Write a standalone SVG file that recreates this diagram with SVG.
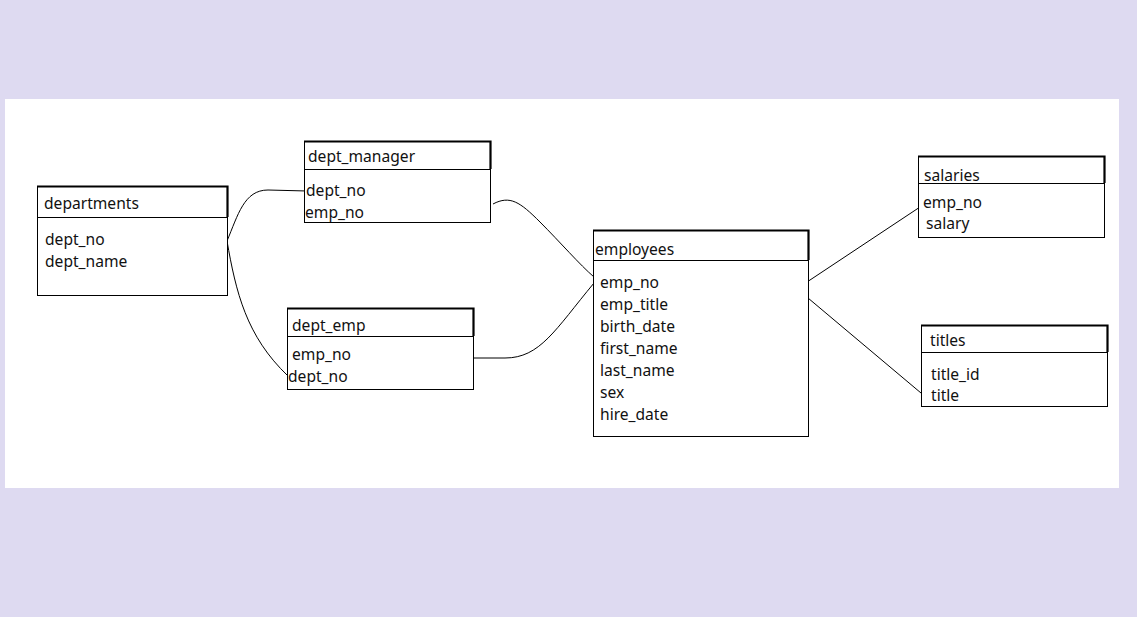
<svg xmlns="http://www.w3.org/2000/svg" width="1137" height="617" viewBox="0 0 1137 617">
<style>
.box{fill:#fff;stroke:#000;stroke-width:1}
.hl{fill:none;stroke:#000;stroke-width:1}
.thick{fill:none;stroke:#000;stroke-width:2.2}
.t{font-family:"Noto Sans","Open Sans",sans-serif;font-size:15.6px;fill:#111}
.c{fill:none;stroke:#000;stroke-width:1}
</style>
<rect x="0" y="0" width="1137" height="617" fill="#dedaf1"/>
<rect x="5" y="99" width="1114" height="389" fill="#fff"/>
<g id="connectors">
<path class="c" d="M227,241 C238,215 244,190 268,190 L307,191"/>
<path class="c" d="M227,241 C236,292 246,336 288,376"/>
<path class="c" d="M493,204 C510,195 520,202 540,222 S580,265 594,277"/>
<path class="c" d="M474,358 L505,358 C540,358 555,330 594,283"/>
<path class="c" d="M807,282 L920,207"/>
<path class="c" d="M808,298 L921,393"/>
</g>
<g id="departments">
<rect class="box" x="37.5" y="186.5" width="190" height="109"/>
<line class="hl" x1="37" y1="217.5" x2="228" y2="217.5"/>
<polyline class="thick" points="37,186.5 227.5,186.5 227.5,217"/>
<text class="t" x="44" y="209">departments</text>
<text class="t" x="45" y="245">dept_no</text>
<text class="t" x="45" y="267">dept_name</text>
</g>
<g id="dept_manager">
<rect class="box" x="304.5" y="141.5" width="186" height="81"/>
<line class="hl" x1="304" y1="169.5" x2="491" y2="169.5"/>
<polyline class="thick" points="304,141.5 490.5,141.5 490.5,169"/>
<text class="t" x="308" y="162">dept_manager</text>
<text class="t" x="306" y="196">dept_no</text>
<text class="t" x="305" y="218">emp_no</text>
</g>
<g id="dept_emp">
<rect class="box" x="287.5" y="308.5" width="186" height="81"/>
<line class="hl" x1="287" y1="336.5" x2="474" y2="336.5"/>
<polyline class="thick" points="287,308.5 473.5,308.5 473.5,336"/>
<text class="t" x="292" y="331">dept_emp</text>
<text class="t" x="292" y="360">emp_no</text>
<text class="t" x="288" y="382">dept_no</text>
</g>
<g id="employees">
<rect class="box" x="593.5" y="230.5" width="215" height="206"/>
<line class="hl" x1="593" y1="260.5" x2="809" y2="260.5"/>
<polyline class="thick" points="593,230.5 808.5,230.5 808.5,260"/>
<text class="t" x="595" y="255">employees</text>
<text class="t" x="600" y="288">emp_no</text>
<text class="t" x="600" y="310">emp_title</text>
<text class="t" x="600" y="332">birth_date</text>
<text class="t" x="600" y="354">first_name</text>
<text class="t" x="600" y="376">last_name</text>
<text class="t" x="600" y="398">sex</text>
<text class="t" x="600" y="420">hire_date</text>
</g>
<g id="salaries">
<rect class="box" x="918.5" y="156.5" width="186" height="81"/>
<line class="hl" x1="918" y1="183.5" x2="1105" y2="183.5"/>
<polyline class="thick" points="918,156.5 1104.5,156.5 1104.5,183"/>
<text class="t" x="924" y="181">salaries</text>
<text class="t" x="923" y="208">emp_no</text>
<text class="t" x="926" y="229">salary</text>
</g>
<g id="titles">
<rect class="box" x="921.5" y="325.5" width="186" height="81"/>
<line class="hl" x1="921" y1="352.5" x2="1108" y2="352.5"/>
<polyline class="thick" points="921,325.5 1107.5,325.5 1107.5,352"/>
<text class="t" x="930" y="346">titles</text>
<text class="t" x="931" y="380">title_id</text>
<text class="t" x="931" y="401">title</text>
</g>
</svg>
